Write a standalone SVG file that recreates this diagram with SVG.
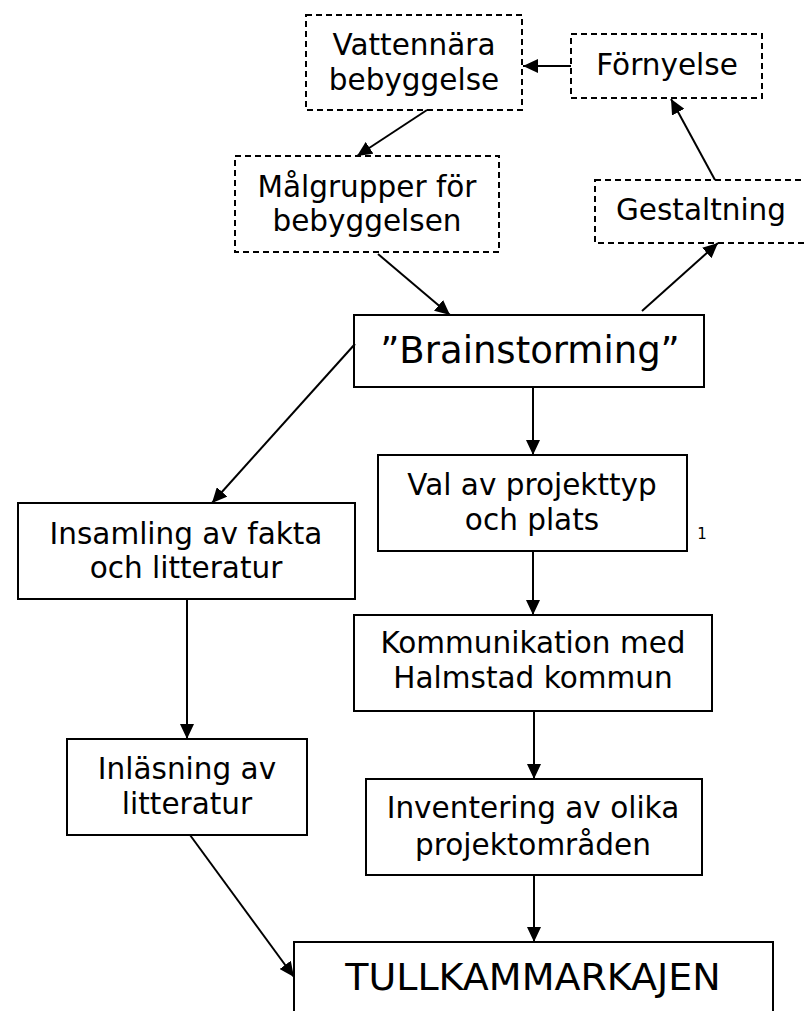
<svg xmlns="http://www.w3.org/2000/svg" width="805" height="1011" viewBox="0 0 805 1011">
<style>
.box{fill:#fff;stroke:#000;stroke-width:2}
.dash{stroke-dasharray:6 4}
.t{font-family:"DejaVu Sans",Verdana,sans-serif;font-size:29.5px;fill:#000;text-anchor:middle}
.big{font-size:37px}
.huge{font-size:38px}
.edge{stroke:#000;stroke-width:2;fill:none;marker-end:url(#ah)}
</style>
<defs>
<marker id="ah" markerUnits="userSpaceOnUse" markerWidth="16" markerHeight="14" refX="15" refY="7" orient="auto">
<path d="M0,0 L15,7 L0,14 Z" fill="#000"/>
</marker>
</defs>
<rect width="805" height="1011" fill="#fff"/>
<g id="vattennara">
<rect class="box dash" x="306" y="15" width="216" height="95"/>
<text class="t" x="414" y="55">Vattennära</text>
<text class="t" x="414" y="90">bebyggelse</text>
</g>
<g id="fornyelse">
<rect class="box dash" x="571" y="34" width="191" height="64"/>
<text class="t" x="667" y="75">Förnyelse</text>
</g>
<g id="malgrupper">
<rect class="box dash" x="235" y="156" width="264" height="96"/>
<text class="t" x="367" y="197">Målgrupper för</text>
<text class="t" x="367" y="231">bebyggelsen</text>
</g>
<g id="gestaltning">
<rect class="box dash" x="595" y="180" width="213" height="63"/>
<text class="t" x="701" y="220">Gestaltning</text>
</g>
<g id="brainstorming">
<rect class="box" x="354" y="315" width="350" height="72"/>
<text class="t big" x="530" y="363">”Brainstorming”</text>
</g>
<g id="insamling">
<rect class="box" x="18" y="503" width="337" height="96"/>
<text class="t" x="186" y="544">Insamling av fakta</text>
<text class="t" x="186" y="578">och litteratur</text>
</g>
<g id="val">
<rect class="box" x="378" y="455" width="309" height="96"/>
<text class="t" x="532" y="495">Val av projekttyp</text>
<text class="t" x="532" y="530">och plats</text>
<text x="702" y="539" font-family="DejaVu Sans,Verdana,sans-serif" font-size="15" text-anchor="middle">1</text>
</g>
<g id="kommunikation">
<rect class="box" x="354" y="615" width="358" height="96"/>
<text class="t" x="533" y="653">Kommunikation med</text>
<text class="t" x="533" y="688">Halmstad kommun</text>
</g>
<g id="inlasning">
<rect class="box" x="67" y="739" width="240" height="96"/>
<text class="t" x="187" y="779">Inläsning av</text>
<text class="t" x="187" y="814">litteratur</text>
</g>
<g id="inventering">
<rect class="box" x="366" y="779" width="336" height="96"/>
<text class="t" x="533" y="818">Inventering av olika</text>
<text class="t" x="533" y="855">projektområden</text>
</g>
<g id="tullkammarkajen">
<rect class="box" x="294" y="942" width="479" height="80"/>
<text class="t huge" x="533" y="990">TULLKAMMARKAJEN</text>
</g>
<g id="connectors">
<line class="edge" x1="571" y1="66" x2="523" y2="66"/>
<line class="edge" x1="427" y1="110" x2="357" y2="156"/>
<line class="edge" x1="378" y1="254" x2="450" y2="315"/>
<line class="edge" x1="642" y1="311" x2="718" y2="243"/>
<line class="edge" x1="715" y1="180" x2="671" y2="99"/>
<line class="edge" x1="355" y1="344" x2="212" y2="503"/>
<line class="edge" x1="533" y1="387" x2="533" y2="455"/>
<line class="edge" x1="187" y1="599" x2="187" y2="739"/>
<line class="edge" x1="533" y1="551" x2="533" y2="615"/>
<line class="edge" x1="534" y1="711" x2="534" y2="779"/>
<line class="edge" x1="534" y1="875" x2="534" y2="942"/>
<line class="edge" x1="190" y1="835" x2="294" y2="977"/>
</g>
</svg>
